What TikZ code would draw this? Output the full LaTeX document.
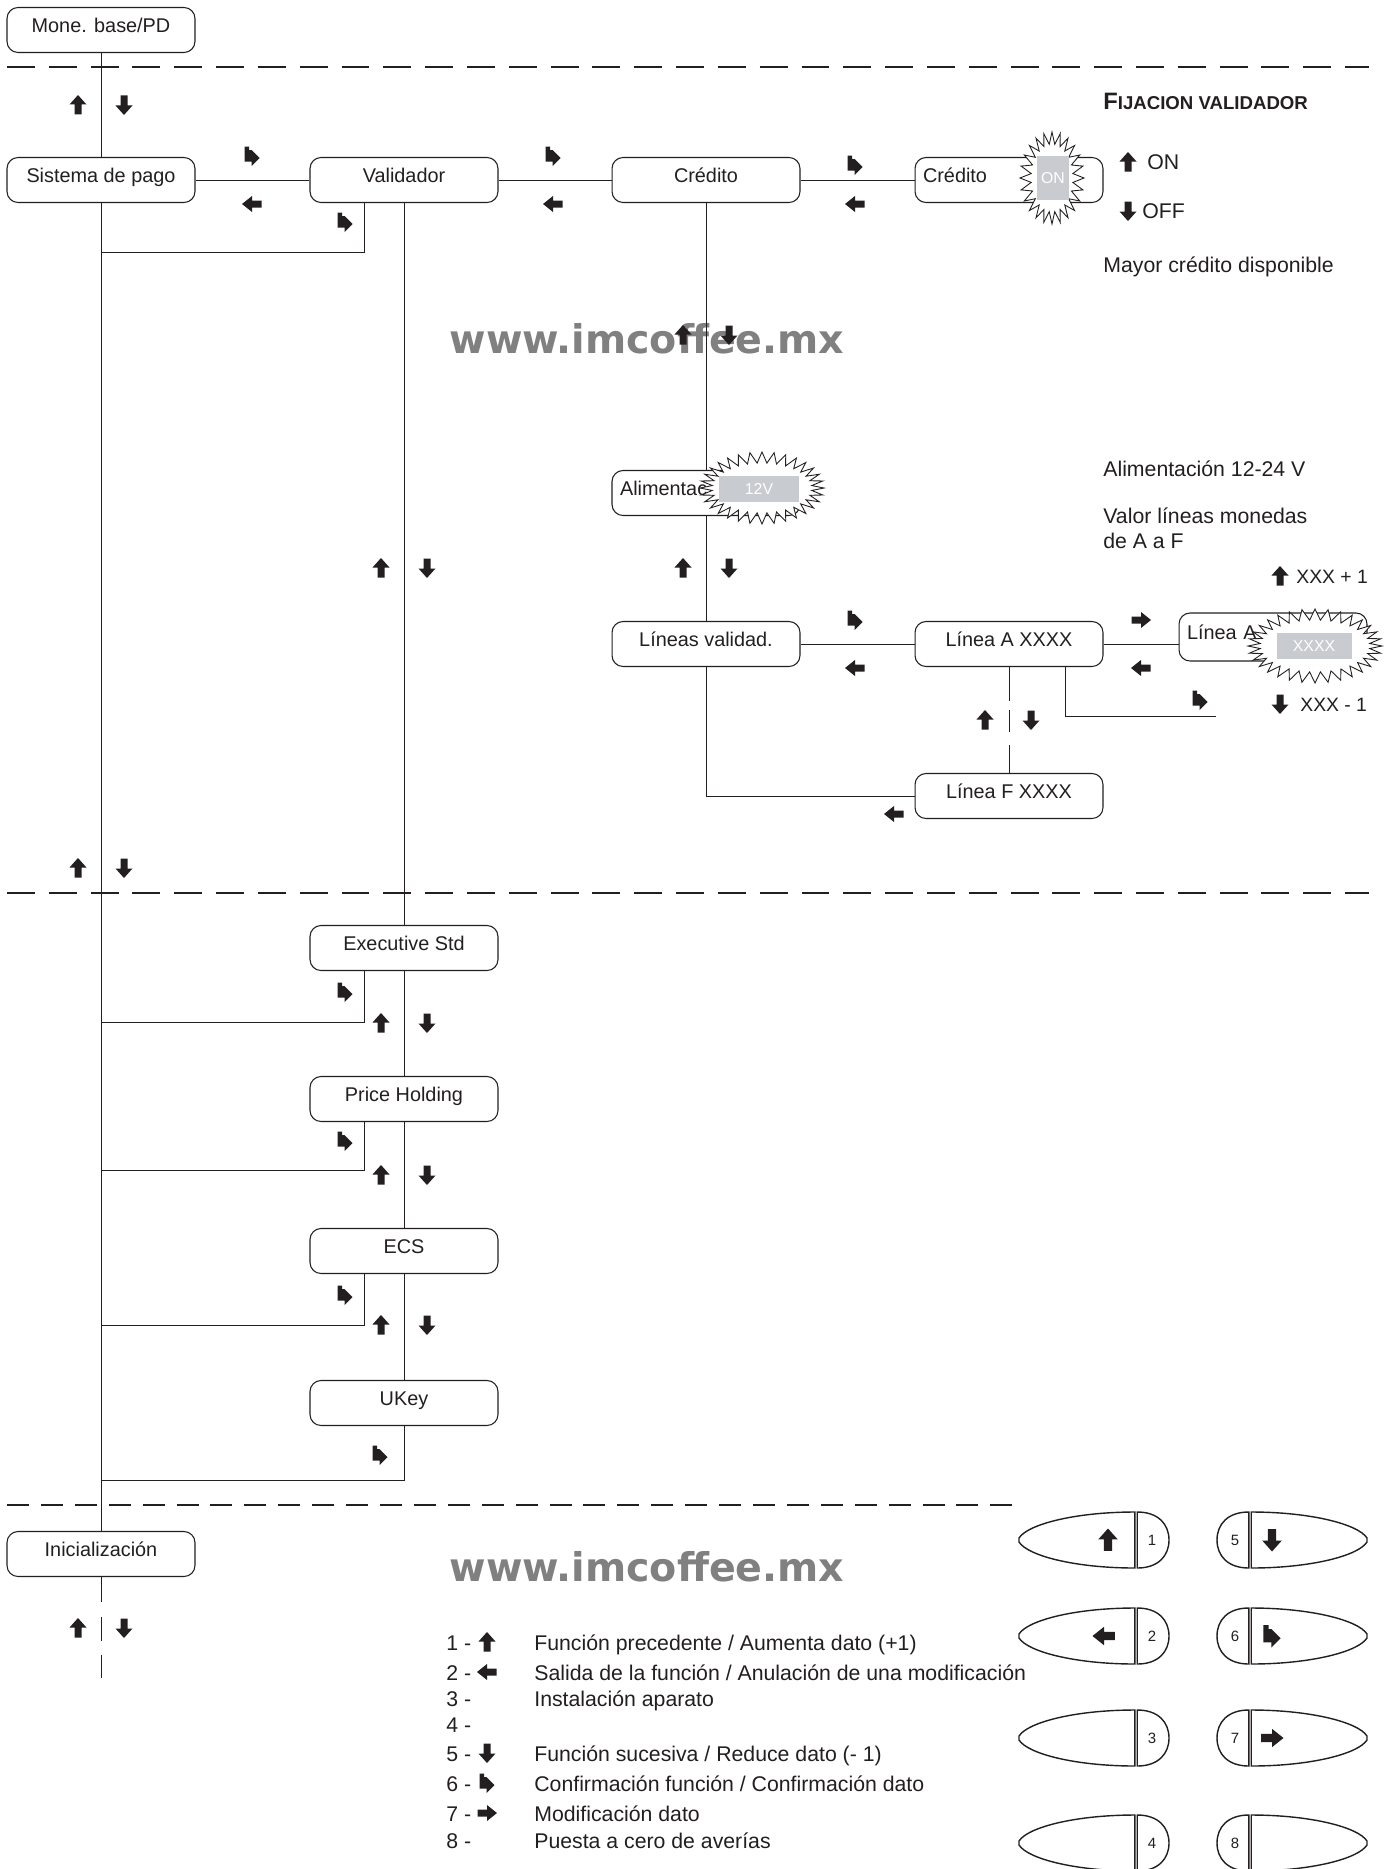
\documentclass[tikz,border=0pt]{standalone}
\usepackage{fontspec}
\setmainfont{Liberation Sans}
\newfontfamily\wmfont{DejaVu Sans}
\definecolor{ink}{HTML}{231F20}
\definecolor{scr}{HTML}{C8CCD1}
\definecolor{wmgray}{HTML}{808080}
\tikzset{
 box/.style={draw=ink, line width=0.6pt, rounded corners=0.22cm, minimum width=3.76cm, minimum height=0.9cm, inner sep=0pt, font=\fontsize{11.3}{13}\selectfont, text height=8pt, text depth=5pt, fill=white, text=ink},
 lbox/.style={box, text width=3.44cm, align=left, inner xsep=0.16cm},
 conn/.style={draw=ink, line width=0.55pt},
 sepline/.style={draw=ink, line width=0.6pt, dash pattern=on 15.9pt off 7.9pt},
 ann/.style={font=\fontsize{12.1}{14}\selectfont, inner sep=0pt, anchor=base west, text=ink},
 scrn/.style={fill=scr, text=white, inner sep=0pt, font=\fontsize{9}{10}\selectfont},
 burst/.style={draw=ink, line width=0.5pt, fill=white, line join=miter},
 btn/.style={draw=ink, line width=0.8pt, fill=white},
 pics/aup/.style={code={\fill[ink] (0,-10)--(8.5,-0.5)--(3.5,-0.5)--(3.5,9.5)--(-3.5,9.5)--(-3.5,-0.5)--(-8.5,-0.5)--cycle;}},
 pics/adn/.style={code={\fill[ink] (0,10)--(8.5,0.5)--(3.5,0.5)--(3.5,-9.5)--(-3.5,-9.5)--(-3.5,0.5)--(-8.5,0.5)--cycle;}},
 pics/alt/.style={code={\fill[ink] (-10,0)--(0,-8)--(0,-3.5)--(9.5,-3.5)--(9.5,3.5)--(0,3.5)--(0,8)--cycle;}},
 pics/art/.style={code={\fill[ink] (10,0)--(0,-8)--(0,-3.5)--(-9.5,-3.5)--(-9.5,3.5)--(0,3.5)--(0,8)--cycle;}},
 pics/acf/.style={code={\fill[ink] (-7.5,-9.5)--(-3,-9.5)--(-3,-6)--(-0.5,-6)--(7.5,2)--(-0.5,10)--(-0.5,5.5)--(-7.5,5.5)--cycle;}},
 pics/lbtn/.style={code={
   \draw[btn] (-1.2,-28) .. controls (-60,-28) and (-108,-16) .. (-117,-2) -- (-117,2) .. controls (-108,16) and (-60,28) .. (-1.2,28) -- cycle;
   \draw[btn] (1.2,-28) .. controls (22,-28) and (33,-16) .. (33,0) .. controls (33,16) and (22,28) .. (1.2,28) -- cycle;}},
}
\begin{document}
\begin{tikzpicture}[x=0.02cm,y=-0.02cm]
\useasboundingbox[fill=white] (0,0) rectangle (1394,1869);

% watermarks
\node[font=\wmfont\bfseries\fontsize{22.5}{25}\selectfont, text=wmgray, anchor=base, inner sep=0pt] (wm1) at (647,353) {www.imcoffee.mx};
\node[font=\wmfont\bfseries\fontsize{22.5}{25}\selectfont, text=wmgray, anchor=base, inner sep=0pt] (wm2) at (647,1581) {www.imcoffee.mx};

% separators
\coordinate (s1a) at (7,67);   \coordinate (s1b) at (1369,67);
\coordinate (s2a) at (7,893);  \coordinate (s2b) at (1369,893);
\coordinate (s3a) at (7,1505); \coordinate (s3b) at (1014,1505);
\draw[sepline] (s1a) -- (s1b);
\draw[sepline] (s2a) -- (s2b);
\draw[sepline, dash pattern=on 12.5pt off 6.8pt] (s3a) -- (s3b);

% boxes
\node[box] (mone) at (101,30) {Mone. base/PD};
\node[box] (sis) at (101,180) {Sistema de pago};
\node[box] (val) at (404,180) {Validador};
\node[box] (cre) at (706,180) {Crédito};
\node[lbox] (creon) at (1009,180) {Crédito};
\node[lbox] (ali) at (706,493) {Alimentac};
\node[box] (lin) at (706,644) {Líneas validad.};
\node[box] (lina) at (1009,644) {Línea A XXXX};
\node[lbox, minimum height=0.96cm] (lina2) at (1273,637) {Línea A};
\node[box] (linf) at (1009,796) {Línea F XXXX};
\node[box] (exe) at (404,948) {Executive Std};
\node[box] (pri) at (404,1099) {Price Holding};
\node[box] (ecs) at (404,1251) {ECS};
\node[box] (uk) at (404,1403) {UKey};
\node[box] (ini) at (101,1554) {Inicialización};

% junction coordinates
\coordinate (j1) at (101,252);
\coordinate (j2) at (101,1022);
\coordinate (j3) at (101,1170);
\coordinate (j4) at (101,1325);
\coordinate (j5) at (101,1480);
\coordinate (j6) at (1216,716);
\coordinate (j7) at (101,1678);

% connectors
\draw[conn] (mone) -- (sis);
\draw[conn] (sis) -- (ini);
\draw[conn] (sis) -- (val);
\draw[conn] (val) -- (cre);
\draw[conn] (cre) -- (creon);
\draw[conn] ([xshift=-0.8cm]val.south) |- (j1);
\draw[conn] (val) -- (exe);
\draw[conn] (exe) -- (pri);
\draw[conn] (pri) -- (ecs);
\draw[conn] (ecs) -- (uk);
\draw[conn] ([xshift=-0.8cm]exe.south) |- (j2);
\draw[conn] ([xshift=-0.8cm]pri.south) |- (j3);
\draw[conn] ([xshift=-0.8cm]ecs.south) |- (j4);
\draw[conn] (uk.south) |- (j5);
\draw[conn] (cre) -- (ali);
\draw[conn] (ali) -- (lin);
\draw[conn] (lin.south) |- (linf.west);
\draw[conn] (lin) -- (lina);
\draw[conn] (lina.east) -- (lina.east -| lina2.west);
\draw[conn] ([xshift=1.12cm]lina.south) |- (j6);
\draw[conn, dash pattern=on 19.3pt off 5.1pt on 12.5pt off 7.4pt on 16pt off 20pt] (lina.south) -- (linf.north);
\draw[conn, dash pattern=on 14.2pt off 8.5pt on 13.6pt off 7.9pt on 13.6pt off 20pt] (ini.south) -- (j7);

% starbursts and displays
\draw[burst] plot[variable=\t, samples at={0,...,47}] ({1052+(21+11*(1-mod(\t,2)))*cos(\t*7.5)}, {178+(34+12*(1-mod(\t,2)))*sin(\t*7.5)}) -- cycle;
\node[scrn, minimum width=0.64cm, minimum height=0.88cm] (onv) at (1053,178) {ON};
\draw[burst] plot[variable=\t, samples at={0,...,63}] ({762+(50+12*(1-mod(\t,2)))*cos(\t*5.625)}, {488+(25+11*(1-mod(\t,2)))*sin(\t*5.625)}) -- cycle;
\node[scrn, minimum width=1.6cm, minimum height=0.52cm] (v12) at (759,489) {12V};
\draw[burst] plot[variable=\t, samples at={0,...,63}] ({1315+(55+12*(1-mod(\t,2)))*cos(\t*5.625)}, {646+(26+11*(1-mod(\t,2)))*sin(\t*5.625)}) -- cycle;
\node[scrn, minimum width=1.5cm, minimum height=0.52cm] (xv) at (1314,646) {XXXX};

% up/down arrow pairs
\foreach \ax/\ay in {101/105, 101/868, 101/1628, 404/568, 706/335, 706/568, 404/1023, 404/1175, 404/1325, 1008/720}{
  \pic at (\ax-23,\ay) {aup};
  \pic at (\ax+23,\ay) {adn};
}
% confirm arrows
\foreach \ax/\ay in {252/156, 553/156, 855/165, 345/222, 345/992, 345/1141, 345/1295, 380/1455, 855/620, 1200/700}{
  \pic at (\ax,\ay) {acf};
}
% left arrows
\foreach \ax/\ay in {252/204, 553/204, 855/204, 855/668, 1141/668, 894/814}{
  \pic at (\ax,\ay) {alt};
}
\pic at (1141,620) {art};

% annotations
\node[ann] (tfij) at (1103,110) {\bfseries\fontsize{13.5}{16}\selectfont F\fontsize{10.6}{12}\selectfont IJACION VALIDADOR};
\pic at (1128,162) {aup};
\node[ann] (ton) at (1147,169) {ON};
\pic at (1128,211) {adn};
\node[ann] (toff) at (1142,218) {OFF};
\node[ann] (tmay) at (1103,272) {Mayor crédito disponible};
\node[ann] (tali) at (1103,476) {Alimentación 12-24 V};
\node[ann] (tval) at (1103,523) {Valor líneas monedas};
\node[ann] (tdea) at (1103,548) {de A a F};
\pic at (1280,576) {aup};
\node[ann, font=\fontsize{11}{13}\selectfont] (tp1) at (1296,583) {XXX + 1};
\pic at (1280,704) {adn};
\node[ann, font=\fontsize{11}{13}\selectfont] (tm1) at (1300,711) {XXX - 1};

% legend
\node[ann] (n1) at (446,1650) {1 -};
\node[ann] (n2) at (446,1680) {2 -};
\node[ann] (n3) at (446,1706) {3 -};
\node[ann] (n4) at (446,1732) {4 -};
\node[ann] (n5) at (446,1761) {5 -};
\node[ann] (n6) at (446,1791) {6 -};
\node[ann] (n7) at (446,1821) {7 -};
\node[ann] (n8) at (446,1848) {8 -};
\pic at (487,1642) {aup};
\pic at (487,1672) {alt};
\pic at (487,1753) {adn};
\pic at (487,1783) {acf};
\pic at (487,1813) {art};
\node[ann] (d1) at (534,1650) {Función precedente / Aumenta dato (+1)};
\node[ann] (d2) at (534,1680) {Salida de la función / Anulación de una modificación};
\node[ann] (d3) at (534,1706) {Instalación aparato};
\node[ann] (d5) at (534,1761) {Función sucesiva / Reduce dato (- 1)};
\node[ann] (d6) at (534,1791) {Confirmación función / Confirmación dato};
\node[ann] (d7) at (534,1821) {Modificación dato};
\node[ann] (d8) at (534,1848) {Puesta a cero de averías};

% keypad
\foreach \c/\nl/\nr in {1540/1/5, 1636/2/6, 1738/3/7, 1843/4/8}{
  \pic at (1136,\c) {lbtn};
  \pic[xscale=-1] at (1250,\c) {lbtn};
  \node[font=\fontsize{8.5}{10}\selectfont, text=ink, inner sep=0pt] (k\nl) at (1152,\c) {\nl};
  \node[font=\fontsize{8.5}{10}\selectfont, text=ink, inner sep=0pt] (k\nr) at (1235,\c) {\nr};
}
\pic[scale=1.15] at (1108,1540) {aup};
\pic[scale=1.15] at (1104,1636) {alt};
\pic[scale=1.15] at (1272,1540) {adn};
\pic[scale=1.15] at (1272,1636) {acf};
\pic[scale=1.15] at (1272,1738) {art};
\end{tikzpicture}
\end{document}
